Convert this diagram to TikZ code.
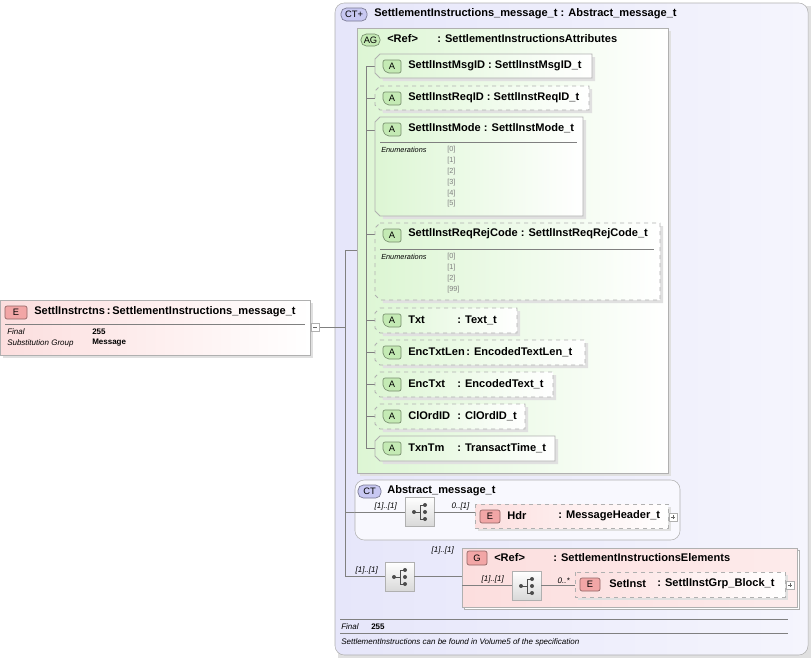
\documentclass[tikz,border=0pt]{standalone}
\usepackage{fontspec}
\setmainfont{Liberation Sans}
\usetikzlibrary{calc}
\definecolor{ctbg}{HTML}{E6E6FA}
\definecolor{ctline}{HTML}{A0A0B8}
\definecolor{agbg}{HTML}{DDF6D4}
\definecolor{pinkbg}{HTML}{FCDEDE}
\definecolor{badgeA}{HTML}{C4EAB4}
\definecolor{badgeE}{HTML}{F2A6A6}
\definecolor{badgeC}{HTML}{C8C8F2}
\definecolor{tree}{HTML}{808080}
\definecolor{boxline}{HTML}{B0B0B0}
\tikzset{
  x=0.75pt,y=-0.75pt,
  big/.style={font=\fontsize{8.3}{9}\selectfont\bfseries,anchor=west,inner sep=0pt},
  small/.style={font=\fontsize{6}{7}\selectfont,anchor=west,inner sep=0pt},
  enum/.style={font=\fontsize{5.5}{6}\selectfont,anchor=west,inner sep=0pt,text=gray},
  mult/.style={font=\fontsize{6}{7}\selectfont\itshape,anchor=south west,inner sep=1pt},
  wire/.style={draw=tree,line width=0.5pt},
  badge/.style={draw=#1!60!black,fill=#1,rounded corners=1.5pt,line width=0.5pt},
}
% attribute box: x0,y0,x1,y1,style
\newcommand{\AttrBox}[5]{%
  \fill[black!12] ($(#1,#2)+(3,3)$) -- ($(#3,#2)+(3,3)$) -- ($(#3,#4)+(3,3)$) -- ($(#1,#4)+(8,3)$) -- cycle;
  \draw[boxline,left color=agbg,right color=white,line width=0.6pt,#5] (#1+5,#2) -- (#3,#2) -- (#3,#4) -- (#1+5,#4) -- (#1,#4-5) -- (#1,#2+5) -- cycle;
  \draw[badge=badgeA] (#1+8,#2+6) -- (#1+26,#2+6) -- (#1+26,#2+19) -- (#1+12,#2+19) -- (#1+8,#2+15) -- cycle;
  \node[font=\fontsize{7}{8}\selectfont] at (#1+17,#2+12.5) {A};
}
% sequence icon
\newcommand{\SeqIcon}[3]{%
  \draw[boxline,top color=white,bottom color=black!15] (#1,#2) rectangle (#1+29,#2+29);
  \coordinate (#3) at (#1+14.5,#2+14.5);
  \fill[black!70] (#1+9,#2+15) circle (2);
  \draw[black!70,line width=0.7pt] (#1+9,#2+15) -- (#1+15,#2+15) (#1+15,#2+8) -- (#1+15,#2+22)
     (#1+15,#2+8) -- (#1+19,#2+8) (#1+15,#2+22) -- (#1+19,#2+22);
  \fill[black!70] (#1+20,#2+8) circle (2) (#1+20,#2+15) circle (2) (#1+20,#2+22) circle (2);
}
\newcommand{\PlusBox}[2]{%
  \draw[boxline,fill=white] (#1,#2) rectangle (#1+8,#2+8);
  \draw[black!60] (#1+2,#2+4) -- (#1+6,#2+4) (#1+4,#2+2) -- (#1+4,#2+6);
}
\begin{document}
\begin{tikzpicture}
\useasboundingbox (0,0) rectangle (812,657);

% ---- root element
\fill[black!12] (3,303) rectangle (313,358);
\draw[boxline,left color=pinkbg,right color=white] (0,300) rectangle (310,355);
\draw[badge=badgeE] (5,306) rectangle (27,319);
\node[font=\fontsize{7}{8}\selectfont] at (16,312.5) {E};
\node[big] (root) at (34,312) {SettlInstrctns\,:\,SettlementInstructions\_message\_t};
\draw[tree] (5,324) -- (305,324);
\node[small,font=\fontsize{6}{7}\selectfont\itshape] at (7,332) {Final};
\node[small,font=\fontsize{6}{7}\selectfont\bfseries] at (92,332) {255};
\node[small,font=\fontsize{6}{7}\selectfont\itshape] at (7,343) {Substitution Group};
\node[small,font=\fontsize{6}{7}\selectfont\bfseries] at (92,343) {Message};
\draw[boxline,fill=white] (311,323) rectangle (319,331);
\draw[black!60] (313,327) -- (317,327);

% ---- outer complex type
\fill[black!12] (338,6) rectangle (811,658);
\draw[boxline,rounded corners=7pt,left color=ctbg,right color=ctbg!40!white] (335,3) rectangle (808,655);
\draw[badge=badgeC,rounded corners=4pt] (341,8) rectangle (367,21);
\node[font=\fontsize{7}{8}\selectfont] at (354,14.5) {CT+};
\node[big] (ct) at (374,14) {SettlementInstructions\_message\_t : Abstract\_message\_t};

% main tree
\draw[wire] (320,327) -- (345,327);
\draw[wire] (345,250) -- (345,576);
\draw[wire] (345,250) -- (357,250);
\draw[wire] (345,512) -- (355,512);

% ---- attribute group
\fill[black!12] (360,31) rectangle (671,476);
\draw[boxline,left color=agbg,right color=white] (357,28) rectangle (668,473);
\draw[badge=badgeA,rounded corners=4pt] (361,34) rectangle (380,46);
\node[font=\fontsize{7}{8}\selectfont] at (370.5,40) {AG};
\node[big] (ag) at (387,39) {<Ref>};
\node[big] at (437,39) {: SettlementInstructionsAttributes};
\draw[wire] (366,66) -- (366,448);
\foreach \y in {66,98,130,234,320,352,384,416,448} \draw[wire] (366,\y) -- (375,\y);

\AttrBox{375}{54}{592}{78}{}
\node[big] (a1) at (408,66) {SettlInstMsgID : SettlInstMsgID\_t};
\AttrBox{375}{86}{589}{110}{dashed}
\node[big] (a2) at (408,98) {SettlInstReqID : SettlInstReqID\_t};
\AttrBox{375}{117}{583}{216}{}
\node[big] (a3) at (408,128) {SettlInstMode : SettlInstMode\_t};
\draw[tree] (380,142) -- (577,142);
\node[small,font=\fontsize{5.5}{6}\selectfont\itshape] at (381,150) {Enumerations};
\foreach \v [count=\i from 0] in {[0],[1],[2],[3],[4],[5]}
  \node[enum] at (447,150+10.8*\i) {\v};
\AttrBox{375}{223}{660}{300}{dashed}
\node[big] (a4) at (408,234) {SettlInstReqRejCode : SettlInstReqRejCode\_t};
\draw[tree] (380,249) -- (654,249);
\node[small,font=\fontsize{5.5}{6}\selectfont\itshape] at (381,257) {Enumerations};
\foreach \v [count=\i from 0] in {[0],[1],[2],[99]}
  \node[enum] at (447,257+10.8*\i) {\v};
\AttrBox{375}{308}{517}{333}{dashed}
\node[big] (a5) at (408,320) {Txt};
\node[big] at (457,320) {: Text\_t};
\AttrBox{375}{340}{585}{365}{dashed}
\node[big] (a6) at (408,352) {EncTxtLen};
\node[big] at (466,352) {: EncodedTextLen\_t};
\AttrBox{375}{372}{553}{397}{dashed}
\node[big] (a7) at (408,384) {EncTxt};
\node[big] at (457,384) {: EncodedText\_t};
\AttrBox{375}{404}{525}{429}{dashed}
\node[big] (a8) at (408,416) {ClOrdID};
\node[big] at (457,416) {: ClOrdID\_t};
\AttrBox{375}{436}{555}{461}{}
\node[big] (a9) at (408,448) {TxnTm};
\node[big] at (457,448) {: TransactTime\_t};

% ---- Abstract_message_t
\draw[boxline,rounded corners=7pt,fill=ctbg!30!white] (355,480) rectangle (680,540);
\draw[badge=badgeC,rounded corners=4pt] (358,485) rectangle (381,498);
\node[font=\fontsize{7}{8}\selectfont] at (369.5,491.5) {CT};
\node[big] (abs) at (387,491) {Abstract\_message\_t};
\SeqIcon{405}{497}{seqA}
\draw[wire] (355,512) -- (405,512) (434,512) -- (475,512);
\node[mult] at (373,512) {[1]..[1]};
\node[mult] at (450,512) {0..[1]};
\fill[black!12] (478,507) rectangle (671,531);
\draw[boxline,dashed,left color=pinkbg,right color=white] (475,504) rectangle (668,528);
\draw[badge=badgeE] (480,510) rectangle (500,523);
\node[font=\fontsize{7}{8}\selectfont] at (490,516.5) {E};
\node[big] (hdr) at (507,516) {Hdr};
\node[big] at (558,516) {: MessageHeader\_t};
\PlusBox{669}{513}

% ---- elements group
\SeqIcon{385}{562}{seqB}
\draw[wire] (345,576) -- (385,576) (414,576) -- (462,576);
\node[mult] at (354,576) {[1]..[1]};
\node[mult] at (430,556) {[1]..[1]};
\fill[black!12] (464,550) rectangle (799,609);
\draw[boxline,fill=white] (464,550) rectangle (799,609);
\draw[boxline,left color=pinkbg,right color=pinkbg!60!white] (462,548) rectangle (797,607);
\draw[badge=badgeE] (467,551) rectangle (487,565);
\node[font=\fontsize{7}{8}\selectfont] at (477,558) {G};
\node[big] (grp) at (494,558) {<Ref>};
\node[big] at (553,558) {: SettlementInstructionsElements};
\SeqIcon{512}{571}{seqC}
\draw[wire] (462,585) -- (512,585) (541,585) -- (575,585);
\node[mult] at (480,585) {[1]..[1]};
\node[mult] at (556,585) {0..*};
\fill[black!12] (578,575) rectangle (788,600);
\draw[boxline,dashed,left color=pinkbg,right color=white] (575,572) rectangle (785,597);
\draw[badge=badgeE] (580,578) rectangle (600,591);
\node[font=\fontsize{7}{8}\selectfont] at (590,584.5) {E};
\node[big] (set) at (609,584) {SetInst};
\node[big] at (657,584) {: SettlInstGrp\_Block\_t};
\PlusBox{786}{581}

% ---- footer
\draw[tree] (340,619) -- (788,619);
\node[small,font=\fontsize{6}{7}\selectfont\itshape] at (341,627) {Final};
\node[small,font=\fontsize{6}{7}\selectfont\bfseries] at (371,627) {255};
\draw[tree] (340,633) -- (788,633);
\node[small,font=\fontsize{6}{7}\selectfont\itshape] at (341,642) {SettlementInstructions can be found in Volume5 of the specification};
\end{tikzpicture}
\end{document}
